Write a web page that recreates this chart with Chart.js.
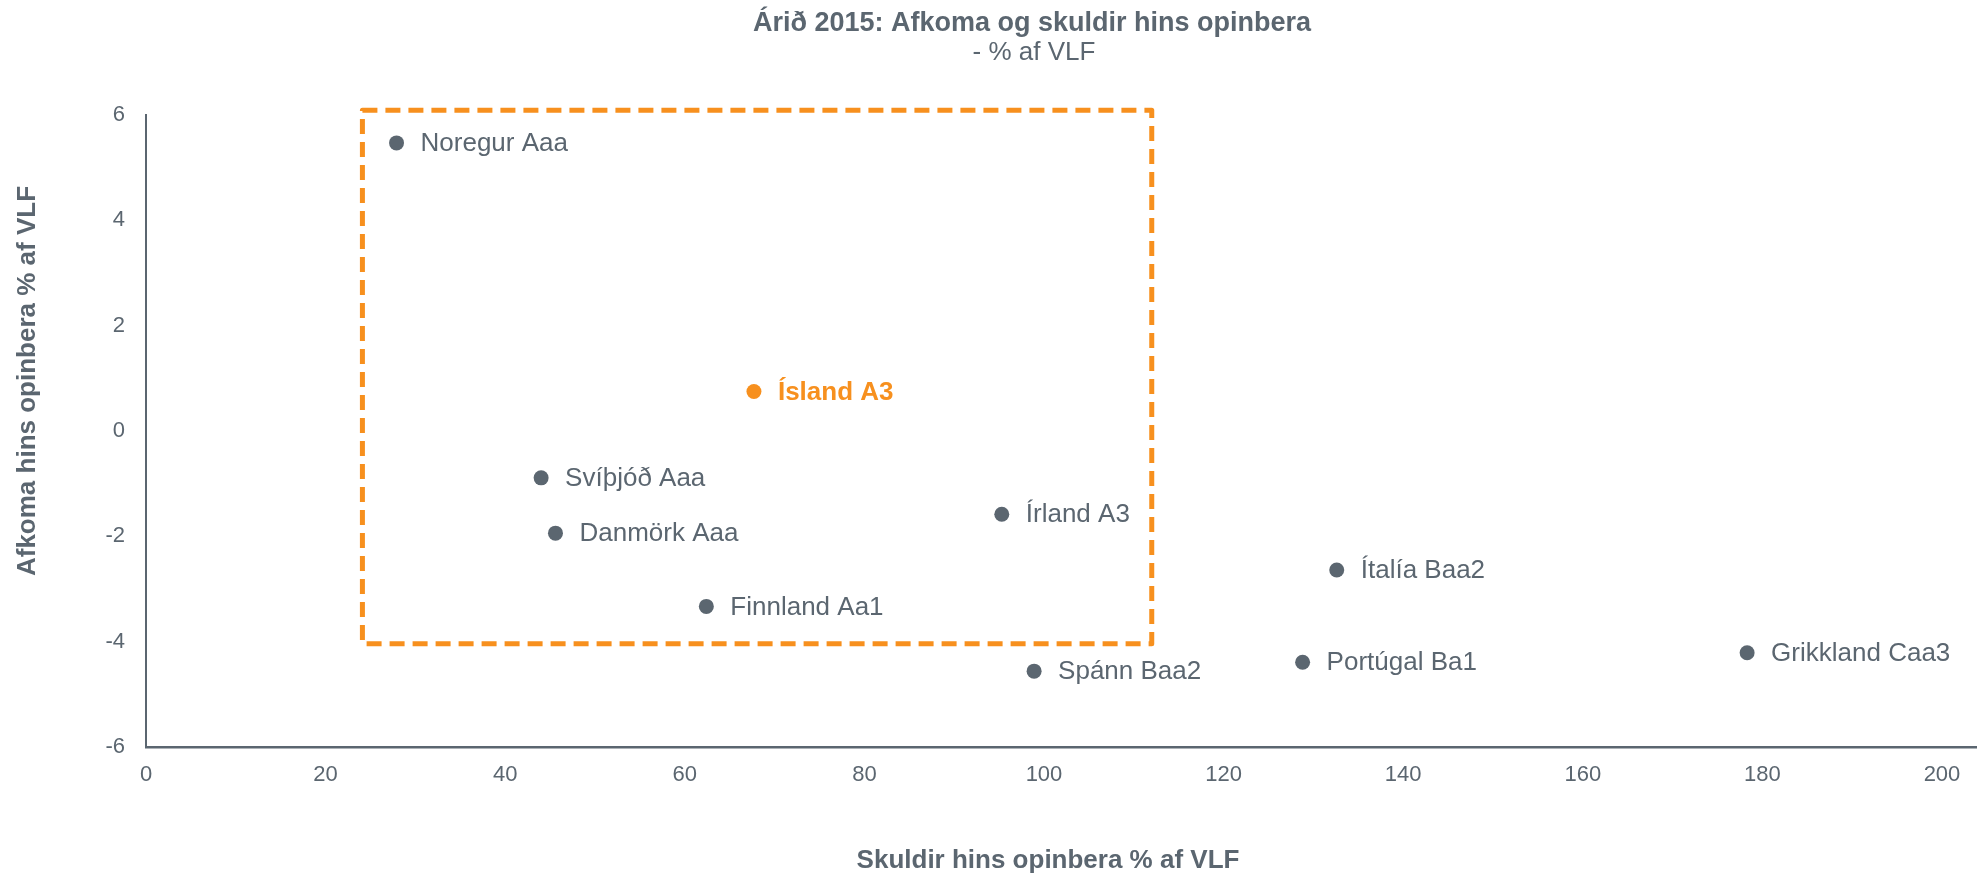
<!DOCTYPE html>
<html><head><meta charset="utf-8">
<script src="https://cdn.jsdelivr.net/npm/chart.js@4.4.1/dist/chart.umd.min.js"></script>
<style>html,body{margin:0;padding:0;background:#fff;overflow:hidden;}</style>
</head><body>
<canvas id="c" width="1977" height="876"></canvas>
<script>
// ---- data ----
const countries = ['Noregur Aaa','Svíþjóð Aaa','Danmörk Aaa','Finnland Aa1','Írland A3','Spánn Baa2','Portúgal Ba1','Ítalía Baa2','Grikkland Caa3'];
const debt      = [27.9, 44.0, 45.6, 62.4, 95.3, 98.9, 128.8, 132.6, 178.3];
const balance   = [5.47, -0.89, -1.94, -3.33, -1.58, -4.56, -4.39, -2.64, -4.21];
const icelandLabels  = ['Ísland A3'];
const icelandDebt    = [67.7];
const icelandBalance = [0.75];
const boxDebt    = [24.1, 112.0];
const boxBalance = [-4.04, 6.09];
const xTicks = [0,20,40,60,80,100,120,140,160,180,200];
const yTicks = [-6,-4,-2,0,2,4,6];
const titleText = 'Árið 2015: Afkoma og skuldir hins opinbera';
const subtitleText = '- % af VLF';
const xTitleText = 'Skuldir hins opinbera % af VLF';
const yTitleText = 'Afkoma hins opinbera % af VLF';

const GRAY = '#5b6670';
const ORANGE = '#f7901e';
const FONT = '"Liberation Sans", Arial, sans-serif';

Chart.defaults.font.family = FONT;
Chart.defaults.color = GRAY;

const boxPlugin = {
  id: 'box',
  beforeDatasetsDraw(chart) {
    const {ctx, scales:{x, y}} = chart;
    const l = x.getPixelForValue(boxDebt[0]), r = x.getPixelForValue(boxDebt[1]);
    const t = y.getPixelForValue(boxBalance[1]), b = y.getPixelForValue(boxBalance[0]);
    ctx.save();
    ctx.strokeStyle = ORANGE;
    ctx.lineWidth = 5;
    ctx.setLineDash([15, 8]);
    ctx.lineJoin = 'round';
    ctx.beginPath();
    ctx.moveTo(l, t); ctx.lineTo(r, t); ctx.lineTo(r, b); ctx.lineTo(l, b); ctx.closePath();
    ctx.stroke();
    ctx.restore();
  }
};

const labelPlugin = {
  id: 'pointLabels',
  afterDatasetsDraw(chart) {
    const {ctx} = chart;
    ctx.save();
    ctx.textBaseline = 'middle';
    ctx.textAlign = 'left';
    chart.data.datasets.forEach((ds, di) => {
      const meta = chart.getDatasetMeta(di);
      ctx.fillStyle = ds.labelColor;
      ctx.font = (ds.labelBold ? 'bold ' : '') + '26px ' + FONT;
      meta.data.forEach((el, i) => {
        ctx.fillText(ds.pointLabels[i], el.x + 24, el.y + 1);
      });
    });
    ctx.restore();
  }
};

const titlePlugin = {
  id: 'titles',
  afterDraw(chart) {
    const {ctx} = chart;
    ctx.save();
    ctx.fillStyle = GRAY;
    ctx.textAlign = 'center';
    ctx.textBaseline = 'alphabetic';
    ctx.font = 'bold 27px ' + FONT;
    ctx.fillText(titleText, 1032, 31);
    ctx.font = '26px ' + FONT;
    ctx.fillText(subtitleText, 1034, 60);
    ctx.font = 'bold 26px ' + FONT;
    ctx.fillText(xTitleText, 1048, 868);
    ctx.translate(28, 381);
    ctx.rotate(-Math.PI/2);
    ctx.textBaseline = 'middle';
    ctx.fillText(yTitleText, 0, 0);
    ctx.restore();
  }
};

new Chart(document.getElementById('c'), {
  type: 'scatter',
  data: {
    datasets: [
      {
        data: debt.map((v, i) => ({x: v, y: balance[i]})),
        pointLabels: countries,
        labelColor: GRAY,
        labelBold: false,
        backgroundColor: GRAY,
        borderWidth: 0,
        pointRadius: 7.5,
        pointHoverRadius: 7.5
      },
      {
        data: icelandDebt.map((v, i) => ({x: v, y: icelandBalance[i]})),
        pointLabels: icelandLabels,
        labelColor: ORANGE,
        labelBold: true,
        backgroundColor: ORANGE,
        borderWidth: 0,
        pointRadius: 7.5,
        pointHoverRadius: 7.5
      }
    ]
  },
  options: {
    responsive: false,
    animation: false,
    events: [],
    layout: { autoPadding: false, padding: { top: 115, left: 0, right: 0, bottom: 0 } },
    plugins: { legend: { display: false }, tooltip: { enabled: false }, title: { display: false } },
    scales: {
      x: {
        type: 'linear',
        min: 0, max: 203.9,
        afterBuildTicks: s => { s.ticks = xTicks.map(v => ({value: v})); },
        afterFit: s => { s.height = 129; s.paddingLeft = 0; s.paddingRight = 0; },
        grid: { display: false, drawTicks: false },
        border: { display: true, color: GRAY, width: 2.5 },
        ticks: { color: GRAY, font: { size: 22 }, padding: 15, maxRotation: 0, autoSkip: false }
      },
      y: {
        type: 'linear',
        min: -6, max: 6,
        afterBuildTicks: s => { s.ticks = yTicks.map(v => ({value: v})); },
        afterFit: s => { s.width = 146; s.paddingTop = 0; s.paddingBottom = 0; },
        grid: { display: false, drawTicks: false },
        border: { display: true, color: GRAY, width: 2 },
        ticks: { color: GRAY, font: { size: 22 }, padding: 21 }
      }
    }
  },
  plugins: [boxPlugin, labelPlugin, titlePlugin]
});
</script>
</body></html>
